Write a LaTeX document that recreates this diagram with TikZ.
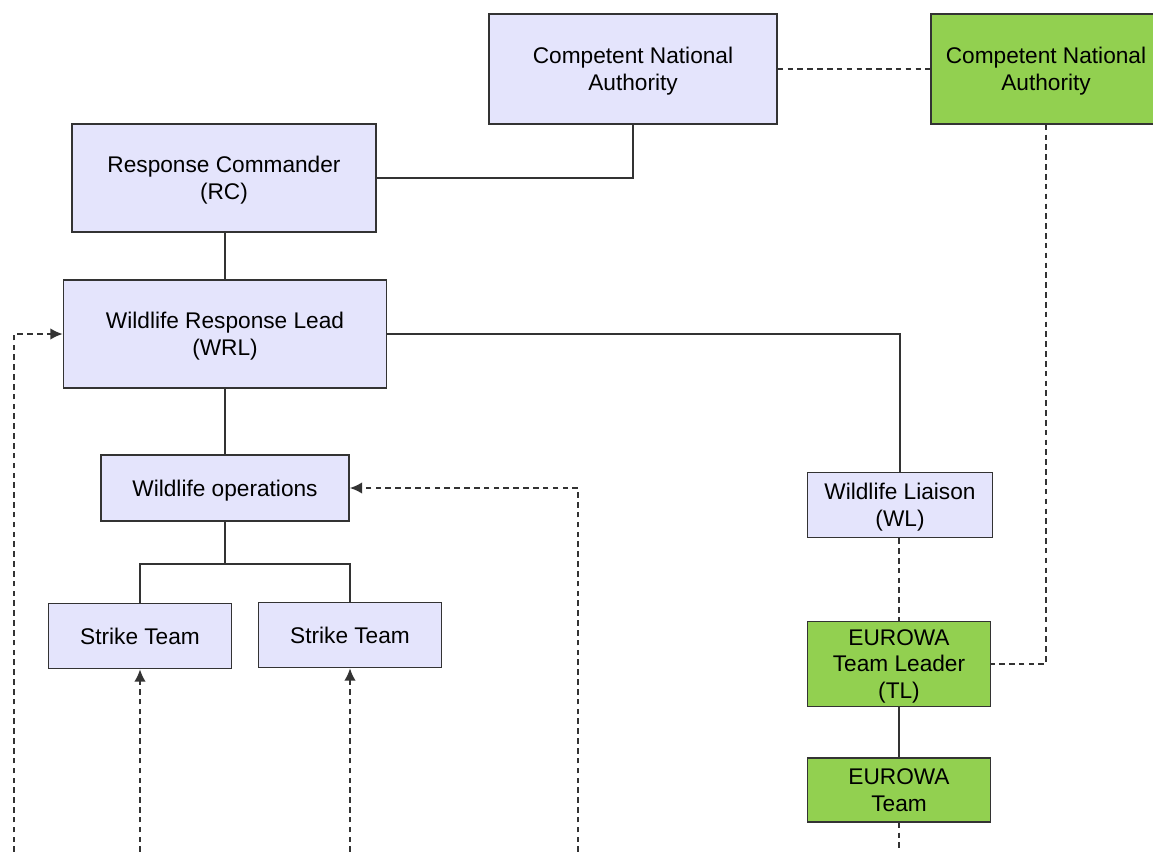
\documentclass[tikz,border=0pt]{standalone}
\usepackage{fontspec}
\setmainfont{Liberation Sans}
\usetikzlibrary{arrows.meta}
\definecolor{boxblue}{HTML}{E4E4FC}
\definecolor{boxgreen}{HTML}{92D050}
\definecolor{edgegray}{HTML}{333333}
\tikzset{
  unit/.style={draw=edgegray,line width=0.9pt,fill=boxblue,rectangle,align=center,
    inner sep=0pt,text depth=0pt,font=\fontsize{12.9}{15.3}\selectfont},
  ewo/.style={unit,fill=boxgreen},
  link/.style={draw=edgegray,line width=0.9pt},
  liaise/.style={link,line width=1pt,dash pattern=on 3.2pt off 2.4pt},
  report/.style={liaise,-{Latex[length=7pt,width=6.5pt]}}
}
\begin{document}
\begin{tikzpicture}[x=0.02cm,y=-0.02cm]
  \useasboundingbox (0,0) rectangle (1153,852);
  \clip (0,0) rectangle (1153,852);
  % boxes
  \node[unit,minimum width=288*0.02cm,minimum height=110*0.02cm] (cna) at (633,69) {Competent National\\Authority};
  \node[ewo,minimum width=230*0.02cm,minimum height=110*0.02cm] (cnb) at (1046,69) {Competent National\\Authority};
  \node[unit,minimum width=304*0.02cm,minimum height=108*0.02cm] (rc) at (224,178) {Response Commander\\(RC)};
  \node[unit,minimum width=323*0.02cm,minimum height=108*0.02cm] (wrl) at (225,334) {Wildlife Response Lead\\(WRL)};
  \node[unit,minimum width=248*0.02cm,minimum height=66*0.02cm] (ops) at (225,488) {Wildlife operations};
  \node[unit,minimum width=183*0.02cm,minimum height=65*0.02cm] (st1) at (140,636) {Strike Team};
  \node[unit,minimum width=183*0.02cm,minimum height=65*0.02cm] (st2) at (350,635) {Strike Team};
  \node[unit,minimum width=185*0.02cm,minimum height=65*0.02cm] (wl) at (900,505) {Wildlife Liaison\\(WL)};
  \node[ewo,minimum width=183*0.02cm,minimum height=85*0.02cm] (tl) at (899,664) {EUROWA\\Team Leader\\(TL)};
  \node[ewo,minimum width=183*0.02cm,minimum height=64*0.02cm] (et) at (899,790) {EUROWA\\Team};
  % loose ends
  \coordinate (inwrl) at (14,852);
  \coordinate (inst1) at (140,852);
  \coordinate (inst2) at (350,852);
  \coordinate (inops) at (578,852);
  \coordinate (outet) at (899,852);
  % solid lines
  \draw[link] (cna.south) |- (rc.east);
  \draw[link] (wrl.north |- rc.south) -- (wrl.north);
  \draw[link] (wrl.east) -| (wl.north);
  \draw[link] (wrl.south) -- (ops.north);
  \draw[link] (ops.south) -- ++(0,42) -| (st1.north);
  \draw[link] (ops.south) ++(0,42) -| (st2.north);
  \draw[link] (tl.south) -- (et.north);
  % dashed lines
  \draw[liaise] (cna.east) -- (cnb.west);
  \draw[liaise] (cnb.south) |- (tl.east);
  \draw[liaise] (tl.north |- wl.south) -- (tl.north);
  \draw[liaise] (et.south) -- (outet);
  \draw[report] (inwrl) |- (wrl.west);
  \draw[report] (inops) |- (ops.east);
  \draw[report] (inst1) -- (st1.south);
  \draw[report] (inst2) -- (st2.south);
\end{tikzpicture}
\end{document}
